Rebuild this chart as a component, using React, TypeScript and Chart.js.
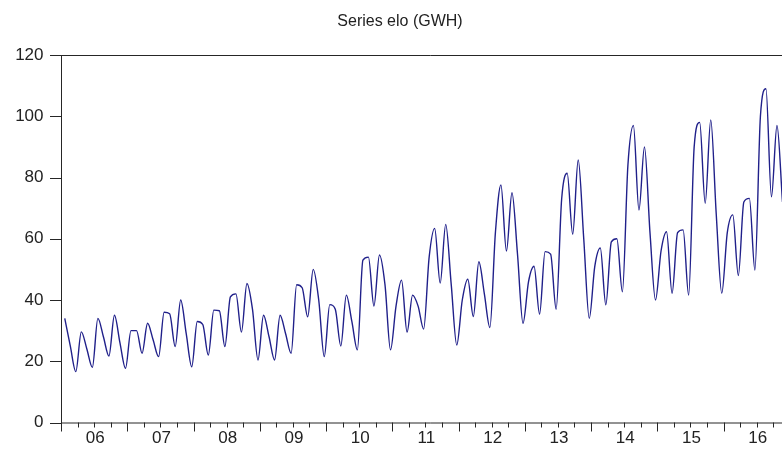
import React, { useEffect, useRef } from 'react';
import { Chart, registerables } from 'chart.js';

Chart.register(...registerables);

// Monthly series, Jan 2006 onwards (GWh)
const ELO_GWH: number[] = [
  34, 25, 16.6, 29.6, 24, 18, 34, 28, 21.7, 35, 26, 17.7,
  30, 30, 22.6, 32.4, 27, 21.5, 36, 35.5, 24.8, 40, 29, 18.2,
  33, 32, 22, 36.7, 36.5, 24.8, 41, 42, 29.5, 45.4, 37, 20.4,
  35, 28, 20.4, 35, 29, 22.6, 45, 44, 34.5, 50, 40, 21.5,
  38.5, 37, 25, 41.6, 33, 23.7, 53, 54, 38, 54.7, 45, 23.7,
  38, 46.5, 29.5, 41.6, 38, 30.5, 54, 63.4, 45.5, 64.7, 45, 25.3,
  40, 46.8, 34.6, 52.5, 42, 31, 62, 77.6, 56, 75, 55, 32.4,
  46, 51, 35.4, 55.8, 55, 37, 73, 81.4, 61.5, 85.7, 60, 34,
  51, 57, 38.4, 59, 60, 42.7, 84, 97, 69.4, 90, 62, 40,
  56, 62.3, 42.2, 62, 62.9, 41.6, 90, 98, 71.6, 98.8, 68, 42.2,
  62, 67.8, 48, 72, 73.2, 49.8, 100, 109, 73.7, 97, 72,
];

const YEAR_LABELS: string[] = ['06', '07', '08', '09', '10', '11', '12', '13', '14', '15', '16'];
const Y_TICKS: number[] = [0, 20, 40, 60, 80, 100, 120];
const TITLE = 'Series elo (GWH)';

const FONT = "'Liberation Sans', Arial, sans-serif";
const CANVAS_W = 840;
const CANVAS_H = 457;
const X_MAX = 133.67; // months shown in the plot frame
const QUARTER_TICKS: number[] = [];
for (let m = 0; m <= 132; m += 3) QUARTER_TICKS.push(m);

const axesPlugin = {
  id: 'evAxes',
  afterDraw(chart: any) {
    const { ctx, chartArea, scales } = chart;
    const { left, right, top, bottom } = chartArea;
    const x = scales.x;
    const y = scales.y;
    ctx.save();
    ctx.strokeStyle = '#262626';
    ctx.lineWidth = 1;
    ctx.beginPath();
    ctx.moveTo(left - 0.5, top + 0.5);
    ctx.lineTo(right, top + 0.5);
    ctx.moveTo(left - 0.5, top);
    ctx.lineTo(left - 0.5, bottom + 1);
    ctx.moveTo(left - 1, bottom + 0.5);
    ctx.lineTo(right, bottom + 0.5);
    for (const v of Y_TICKS) {
      const py = Math.round(y.getPixelForValue(v)) + 0.5;
      ctx.moveTo(left - 12, py);
      ctx.lineTo(left - 0.5, py);
    }
    for (const m of QUARTER_TICKS) {
      const px = Math.round(x.getPixelForValue(m)) - 0.5;
      if (px > right) continue;
      const len = m % 12 === 0 ? 9 : 5;
      ctx.moveTo(px, bottom);
      ctx.lineTo(px, bottom + len);
    }
    ctx.stroke();
    ctx.restore();
  },
};

export default function App() {
  const canvasRef = useRef<HTMLCanvasElement | null>(null);

  useEffect(() => {
    const canvas = canvasRef.current;
    if (!canvas) return;
    const chart = new Chart(canvas, {
      type: 'line',
      data: {
        datasets: [
          {
            label: 'elo',
            data: ELO_GWH.map((v, i) => ({ x: i + 0.5, y: v })),
            borderColor: '#20208a',
            borderWidth: 1.4,
            pointRadius: 0,
            cubicInterpolationMode: 'monotone',
            fill: false,
          },
        ],
      },
      options: {
        responsive: false,
        animation: false,
        devicePixelRatio: 1,
        layout: { padding: { left: 0, right: 40, top: 0, bottom: 0 } },
        plugins: {
          legend: { display: false },
          tooltip: { enabled: false },
          title: {
            display: true,
            text: TITLE,
            color: '#222',
            font: { family: FONT, size: 16, weight: 'normal', lineHeight: 1.2 },
            padding: { top: 12, bottom: 23.8 },
          },
        },
        scales: {
          x: {
            type: 'linear',
            min: 0,
            max: X_MAX,
            grid: { display: false, drawTicks: false },
            border: { display: false },
            afterFit: (s: any) => {
              s.height = 34.5;
            },
            afterBuildTicks: (axis: any) => {
              axis.ticks = QUARTER_TICKS.map((v) => ({ value: v }));
            },
            ticks: {
              autoSkip: false,
              maxRotation: 0,
              minRotation: 0,
              padding: 6,
              color: '#222',
              font: { family: FONT, size: 17 },
              callback: (value: any) => {
                const v = Number(value);
                if (v % 12 === 6) return YEAR_LABELS[Math.floor(v / 12)] ?? '';
                return '';
              },
            },
          },
          y: {
            type: 'linear',
            min: 0,
            max: 120,
            grid: { display: false, drawTicks: false },
            border: { display: false },
            afterFit: (s: any) => {
              s.width = 62;
            },
            afterBuildTicks: (axis: any) => {
              axis.ticks = Y_TICKS.map((v) => ({ value: v }));
            },
            ticks: {
              padding: 18.5,
              color: '#222',
              font: { family: FONT, size: 17 },
            },
          },
        },
      },
      plugins: [axesPlugin],
    });
    return () => chart.destroy();
  }, []);

  return (
    <div
      style={{
        position: 'fixed',
        left: 0,
        top: 0,
        width: 782,
        height: 457,
        overflow: 'hidden',
        background: '#fff',
      }}
    >
      <canvas
        ref={canvasRef}
        width={CANVAS_W}
        height={CANVAS_H}
        style={{ width: CANVAS_W, height: CANVAS_H, display: 'block' }}
      />
    </div>
  );
}
